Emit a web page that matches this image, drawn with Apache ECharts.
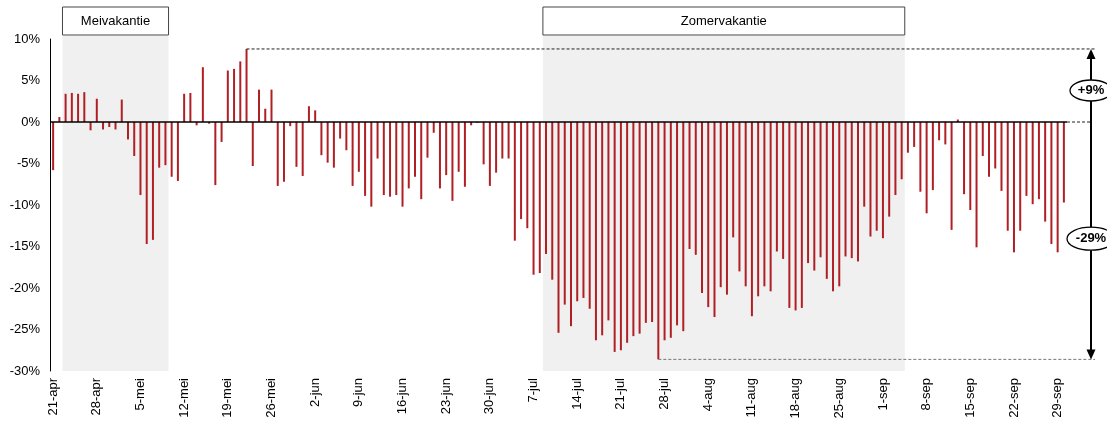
<!DOCTYPE html>
<html>
<head>
<meta charset="utf-8">
<script src="https://cdn.jsdelivr.net/npm/echarts@6/dist/echarts.min.js"></script>
<style>
html,body{margin:0;padding:0;background:#fff;}
#main{width:1107px;height:423px;}
</style>
</head>
<body>
<div id="main"></div>
<script>
// categorieen: dagen van 21-apr t/m 30-sep
var months = [['apr', 21, 30], ['mei', 1, 31], ['jun', 1, 30], ['jul', 1, 31], ['aug', 1, 31], ['sep', 1, 30]];
var days = [];
months.forEach(function(m){
	for (var d = m[1]; d <= m[2]; d++) days.push(d + '-' + m[0]);
});

// procentuele verandering per dag
var aprVals = [-5.8, 0.6, 3.4, 3.5, 3.4, 3.6, -1.0, 2.8, -0.9, -0.6];
var meiVals = [-0.9, 2.7, -2.1, -4.1, -8.8, -14.7, -14.2, -5.5, -5.2, -6.6, -7.1, 3.4, 3.5, -0.4, 6.6, -0.2,
	-7.6, -2.4, 6.2, 6.4, 7.3, 8.8, -5.3, 3.9, 1.6, 3.9, -7.7, -7.2, -0.5, -5.4, -6.5];
var junVals = [1.9, 1.4, -4.0, -4.9, -5.5, -2.0, -3.4, -7.7, -6.0, -8.9, -10.2, -4.4, -8.8, -9.0, -8.8,
	-10.2, -8.0, -6.6, -9.3, -4.3, -1.3, -8.0, -6.4, -9.5, -6.0, -7.8, -0.4, -0.1, -5.1, -7.7];
var julVals = [-6.1, -4.4, -4.4, -14.3, -11.7, -12.8, -18.4, -18.2, -15.9, -19.0, -25.4, -22.0, -24.6, -21.6,
	-21.2, -22.5, -26.3, -25.7, -23.9, -27.7, -27.5, -26.6, -25.8, -25.5, -24.2, -24.1, -28.6, -26.3, -26.0, -24.5, -25.2];
var augVals = [-15.3, -16.0, -20.6, -22.3, -23.5, -19.9, -20.8, -13.9, -18.0, -19.8, -23.4, -21.0, -19.8, -20.4,
	-15.6, -16.5, -22.4, -22.7, -22.4, -17.0, -17.9, -16.3, -18.9, -20.4, -19.8, -16.2, -16.4, -16.8, -10.2, -13.8, -13.1];
var sepVals = [-14.0, -11.4, -8.8, -6.9, -3.7, -3.0, -8.4, -11.0, -8.2, -2.2, -2.7, -13.0, 0.3, -8.7, -10.6,
	-15.1, -4.1, -6.6, -5.6, -8.3, -13.1, -15.7, -13.1, -8.9, -9.9, -9.3, -12.0, -14.7, -15.7, -9.7];
var values = [].concat(aprVals, meiVals, junVals, julVals, augVals, sepVals);

// vakanties (eerste en laatste dag)
var holidays = [
	{ name: 'Meivakantie', from: '23-apr', to: '9-mei' },
	{ name: 'Zomervakantie', from: '9-jul', to: '4-sep' }
];

var fontFam = '"Liberation Sans", Arial, sans-serif';
var barColor = '#b01f24';

var myChart = echarts.init(document.getElementById('main'));

var option = {
	animation: false,
	grid: { left: 50, right: 40, top: 39, bottom: 52 },
	xAxis: {
		type: 'category',
		data: days,
		boundaryGap: true,
		axisLine: { show: false, onZero: false },
		axisTick: { show: false },
		splitLine: { show: false },
		axisLabel: {
			interval: 6,
			rotate: 90,
			margin: 7,
			fontSize: 13,
			color: '#000',
			fontFamily: fontFam
		}
	},
	yAxis: {
		type: 'value',
		min: -30,
		max: 10,
		interval: 5,
		axisLine: { show: true, onZero: false, lineStyle: { color: '#000', width: 1 } },
		axisTick: { show: false },
		splitLine: { show: false },
		axisLabel: {
			formatter: '{value}%',
			margin: 10,
			fontSize: 13,
			color: '#000',
			fontFamily: fontFam
		}
	},
	series: [{
		type: 'bar',
		data: values,
		barWidth: 2,
		itemStyle: { color: barColor },
		markLine: {
			silent: true,
			symbol: 'none',
			label: { show: false },
			lineStyle: { color: '#000', type: 'solid', width: 1.5 },
			data: [{ yAxis: 0 }]
		}
	}]
};
myChart.setOption(option);

// annotaties via de schalen van de grafiek
function px(i, v) { return myChart.convertToPixel({ gridIndex: 0 }, [i, v]); }
var bw = px(1, 0)[0] - px(0, 0)[0];
var yTop = px(0, 10)[1];
var yBot = px(0, -30)[1];
var y0 = px(0, 0)[1];
var xRight = px(days.length - 1, 0)[0] + bw / 2;

var maxIdx = 0, minIdx = 0;
values.forEach(function(v, i){
	if (v > values[maxIdx]) maxIdx = i;
	if (v < values[minIdx]) minIdx = i;
});
var pMax = px(maxIdx, values[maxIdx]);
var pMin = px(minIdx, values[minIdx]);
var arrowX = xRight + 24;

var graphics = [];
holidays.forEach(function(h){
	var x1 = px(days.indexOf(h.from), 0)[0] - bw / 2;
	var x2 = px(days.indexOf(h.to), 0)[0] + bw / 2;
	graphics.push({
		type: 'rect', z: 0, silent: true,
		shape: { x: x1, y: yTop - 3, width: x2 - x1, height: yBot - yTop + 3 },
		style: { fill: '#f0f0f0' }
	});
	graphics.push({
		type: 'rect', z: 10, silent: true,
		shape: { x: x1, y: 7, width: x2 - x1, height: 28 },
		style: { fill: '#fff', stroke: '#444', lineWidth: 1 }
	});
	graphics.push({
		type: 'text', z: 11, silent: true,
		x: (x1 + x2) / 2, y: 21,
		style: { text: h.name, fill: '#000', font: '13px ' + fontFam, align: 'center', verticalAlign: 'middle' }
	});
});

// stippellijnen naar de pijl
graphics.push({
	type: 'line', z: 10, silent: true,
	shape: { x1: pMax[0], y1: pMax[1], x2: arrowX + 4, y2: pMax[1] },
	style: { stroke: '#222', lineWidth: 1, lineDash: [3, 2] }
});
graphics.push({
	type: 'line', z: 10, silent: true,
	shape: { x1: pMin[0], y1: pMin[1], x2: arrowX + 4, y2: pMin[1] },
	style: { stroke: '#777', lineWidth: 1, lineDash: [3, 2] }
});
graphics.push({
	type: 'line', z: 10, silent: true,
	shape: { x1: xRight, y1: y0, x2: arrowX, y2: y0 },
	style: { stroke: '#222', lineWidth: 1, lineDash: [3, 2] }
});

// dubbele pijl
graphics.push({
	type: 'line', z: 12, silent: true,
	shape: { x1: arrowX, y1: pMax[1] + 8, x2: arrowX, y2: pMin[1] - 8 },
	style: { stroke: '#000', lineWidth: 2 }
});
graphics.push({
	type: 'polygon', z: 12, silent: true,
	shape: { points: [[arrowX, pMax[1]], [arrowX - 4.5, pMax[1] + 10], [arrowX + 4.5, pMax[1] + 10]] },
	style: { fill: '#000' }
});
graphics.push({
	type: 'polygon', z: 12, silent: true,
	shape: { points: [[arrowX, pMin[1]], [arrowX - 4.5, pMin[1] - 10], [arrowX + 4.5, pMin[1] - 10]] },
	style: { fill: '#000' }
});

function bubble(label, cy, rx, ry) {
	graphics.push({
		type: 'ellipse', z: 13, silent: true,
		shape: { cx: arrowX, cy: cy, rx: rx, ry: ry },
		style: { fill: '#fff', stroke: '#000', lineWidth: 1.3 }
	});
	graphics.push({
		type: 'text', z: 14, silent: true,
		x: arrowX, y: cy,
		style: { text: label, fill: '#000', font: 'bold 13px ' + fontFam, align: 'center', verticalAlign: 'middle' }
	});
}
bubble('+' + Math.round(values[maxIdx]) + '%', (pMax[1] + y0) / 2 + 5, 21, 10.5);
bubble(Math.round(values[minIdx]) + '%', (pMin[1] + y0) / 2 - 2, 24, 11.5);

myChart.setOption({ graphic: graphics });

window.onresize = myChart.resize;
</script>
</body>
</html>
